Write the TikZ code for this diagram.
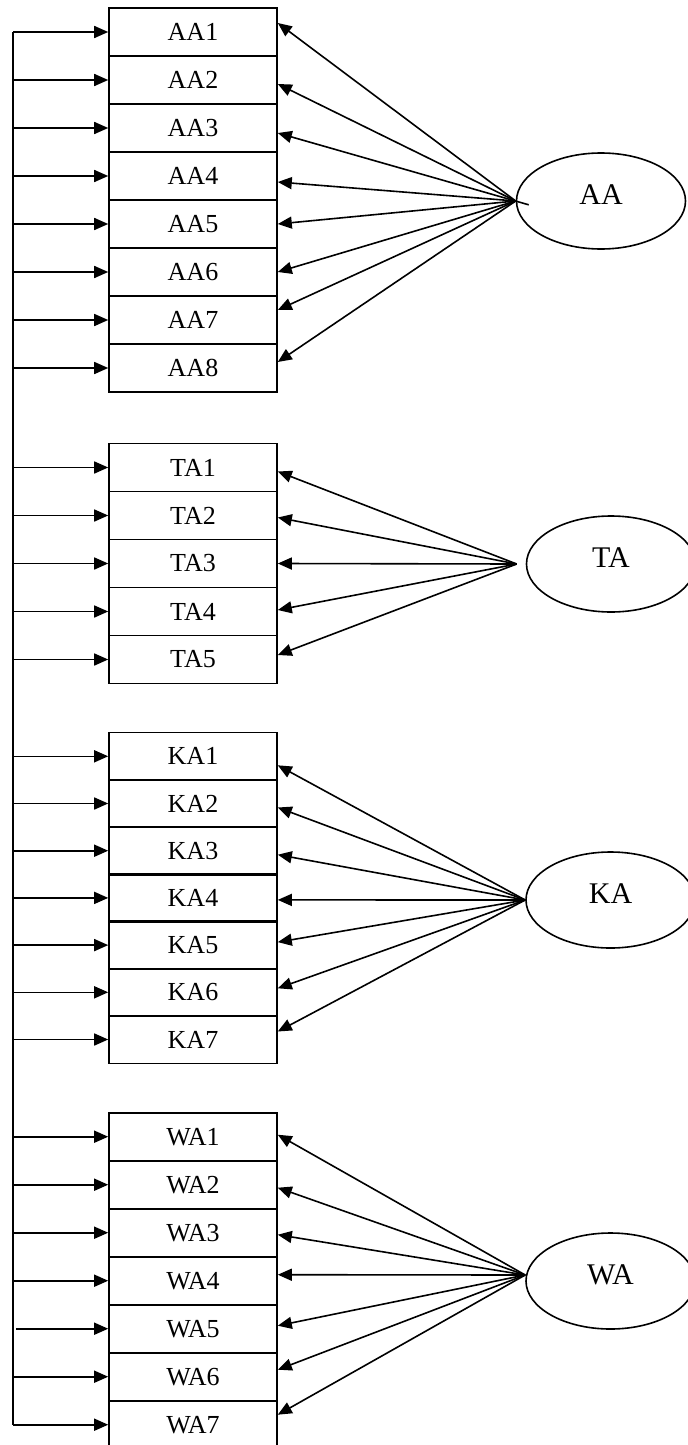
\documentclass[tikz,border=0pt]{standalone}
\usepackage{fontspec}
\setmainfont{Liberation Serif}
\usetikzlibrary{arrows.meta,shapes.geometric}

\begin{document}
\begin{tikzpicture}[x=0.5pt, y=-0.5pt, node distance=24pt, line width=0.8pt, >={Triangle[length=7pt,width=6pt]},
    itembox/.style={rectangle,draw,minimum width=84pt,minimum height=24pt,inner sep=0pt,font=\fontsize{13}{15}\selectfont},
    latent/.style={ellipse,draw,minimum width=84.5pt,minimum height=48pt,text depth=6pt,font=\fontsize{15}{18}\selectfont}]
    \useasboundingbox (0,0) rectangle (688,1445);
    \coordinate (bus) at (13,0);

    % AA items
    \node[itembox] (AA1) at (193,32) {AA1};
    \node[itembox,below of=AA1] (AA2) {AA2};
    \node[itembox,below of=AA2] (AA3) {AA3};
    \node[itembox,below of=AA3] (AA4) {AA4};
    \node[itembox,below of=AA4] (AA5) {AA5};
    \node[itembox,below of=AA5] (AA6) {AA6};
    \node[itembox,below of=AA6] (AA7) {AA7};
    \node[itembox,below of=AA7] (AA8) {AA8};
    \node[latent] (AA) at (601,201) {AA};

    % TA items
    \node[itembox] (TA1) at (193,467.5) {TA1};
    \node[itembox,below of=TA1] (TA2) {TA2};
    \node[itembox,below of=TA2] (TA3) {TA3};
    \node[itembox,below of=TA3] (TA4) {TA4};
    \node[itembox,below of=TA4] (TA5) {TA5};
    \node[latent] (TA) at (611,564) {TA};

    % KA items
    \begin{scope}[node distance=23.6pt]
    \node[itembox] (KA1) at (193,756.3) {KA1};
    \node[itembox,below of=KA1] (KA2) {KA2};
    \node[itembox,below of=KA2] (KA3) {KA3};
    \node[itembox,below of=KA3] (KA4) {KA4};
    \node[itembox,below of=KA4] (KA5) {KA5};
    \node[itembox,below of=KA5] (KA6) {KA6};
    \node[itembox,below of=KA6] (KA7) {KA7};
    \end{scope}
    \node[latent] (KA) at (610.5,900) {KA};

    % WA items
    \node[itembox] (WA1) at (193,1136.7) {WA1};
    \node[itembox,below of=WA1] (WA2) {WA2};
    \node[itembox,below of=WA2] (WA3) {WA3};
    \node[itembox,below of=WA3] (WA4) {WA4};
    \node[itembox,below of=WA4] (WA5) {WA5};
    \node[itembox,below of=WA5] (WA6) {WA6};
    \node[itembox,below of=WA6] (WA7) {WA7};
    \node[latent] (WA) at (610.5,1281) {WA};

    % common line on the left
    \draw (bus |- AA1) -- (bus |- WA7);
    \draw[->] (bus |- AA1) -- (AA1.west);
    \draw[->] (bus |- AA2) -- (AA2.west);
    \draw[->] (bus |- AA3) -- (AA3.west);
    \draw[->] (bus |- AA4) -- (AA4.west);
    \draw[->] (bus |- AA5) -- (AA5.west);
    \draw[->] (bus |- AA6) -- (AA6.west);
    \draw[->] (bus |- AA7) -- (AA7.west);
    \draw[->] (bus |- AA8) -- (AA8.west);
    \draw[->] (bus |- TA1) -- (TA1.west);
    \draw[->] (bus |- TA2) -- (TA2.west);
    \draw[->] (bus |- TA3) -- (TA3.west);
    \draw[->] (bus |- TA4) -- (TA4.west);
    \draw[->] (bus |- TA5) -- (TA5.west);
    \draw[->] (bus |- KA1) -- (KA1.west);
    \draw[->] (bus |- KA2) -- (KA2.west);
    \draw[->] (bus |- KA3) -- (KA3.west);
    \draw[->] (bus |- KA4) -- (KA4.west);
    \draw[->] (bus |- KA5) -- (KA5.west);
    \draw[->] (bus |- KA6) -- (KA6.west);
    \draw[->] (bus |- KA7) -- (KA7.west);
    \draw[->] (bus |- WA1) -- (WA1.west);
    \draw[->] (bus |- WA2) -- (WA2.west);
    \draw[->] (bus |- WA3) -- (WA3.west);
    \draw[->] (bus |- WA4) -- (WA4.west);
    \draw[->] ([xshift=1.5pt]bus |- WA5) -- (WA5.west);
    \draw[->] (bus |- WA6) -- (WA6.west);
    \draw[->] (bus |- WA7) -- (WA7.west);

    % loadings
    \draw[->] (AA.west) -- ([yshift=4.5pt]AA1.east);
    \draw[->] (AA.west) -- ([yshift=-2pt]AA2.east);
    \draw[->] ([xshift=6.5pt,yshift=-1.9pt]AA.west) -- ([yshift=-2.5pt]AA3.east);
    \draw[->] (AA.west) -- ([yshift=-3pt]AA4.east);
    \draw[->] (AA.west) -- (AA5.east);
    \draw[->] (AA.west) -- (AA6.east);
    \draw[->] (AA.west) -- ([yshift=5pt]AA7.east);
    \draw[->] (AA.west) -- ([yshift=3pt]AA8.east);

    \draw[->] ([xshift=-4.5pt]TA.west) -- ([yshift=-2pt]TA1.east);
    \draw[->] ([xshift=-4.5pt]TA.west) -- ([yshift=-1pt]TA2.east);
    \draw[->] ([xshift=-4.5pt]TA.west) -- (TA3.east);
    \draw[->] ([xshift=-4.5pt]TA.west) -- ([yshift=0.75pt]TA4.east);
    \draw[->] ([xshift=-4.5pt]TA.west) -- ([yshift=2.25pt]TA5.east);

    \draw[->] (KA.west) -- ([yshift=-4.5pt]KA1.east);
    \draw[->] (KA.west) -- ([yshift=-2pt]KA2.east);
    \draw[->] (KA.west) -- ([yshift=-2pt]KA3.east);
    \draw[->] (KA.west) -- ([yshift=-1pt]KA4.east);
    \draw[->] (KA.west) -- ([yshift=1.5pt]KA5.east);
    \draw[->] (KA.west) -- ([yshift=2pt]KA6.east);
    \draw[->] (KA.west) -- ([yshift=4pt]KA7.east);

    \draw[->] ([yshift=3pt]WA.west) -- ([yshift=1pt]WA1.east);
    \draw[->] ([yshift=3pt]WA.west) -- ([yshift=-1.5pt]WA2.east);
    \draw[->] ([yshift=3pt]WA.west) -- ([yshift=-1pt]WA3.east);
    \draw[->] ([yshift=3pt]WA.west) -- ([yshift=3pt]WA4.east);
    \draw[->] ([yshift=3pt]WA.west) -- ([yshift=1.5pt]WA5.east);
    \draw[->] ([yshift=3pt]WA.west) -- ([yshift=3.5pt]WA6.east);
    \draw[->] ([yshift=3pt]WA.west) -- ([yshift=5pt]WA7.east);
\end{tikzpicture}
\end{document}
